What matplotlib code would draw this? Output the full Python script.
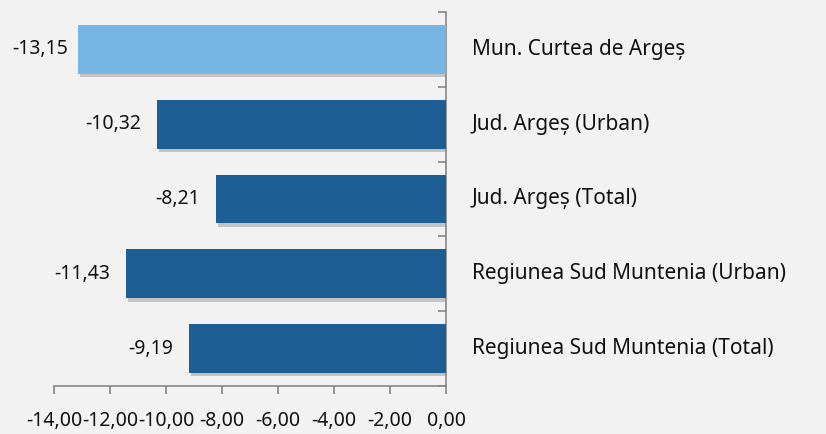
import matplotlib.pyplot as plt
import matplotlib.patheffects as pe
from matplotlib.transforms import blended_transform_factory

categories = ['Mun. Curtea de Argeș', 'Jud. Argeș (Urban)', 'Jud. Argeș (Total)',
              'Regiunea Sud Muntenia (Urban)', 'Regiunea Sud Muntenia (Total)']
values = [-13.15, -10.32, -8.21, -11.43, -9.19]
colors = ['#77b5e4', '#1d5e95', '#1d5e95', '#1d5e95', '#1d5e95']
xticks = [-14, -12, -10, -8, -6, -4, -2, 0]

def fmt(v):
    return ('%.2f' % v).replace('.', ',')

bg = '#f2f2f2'
fig = plt.figure(figsize=(8.26, 4.34), dpi=100, facecolor=bg)
ax = fig.add_axes([54/826, 1-386/434, 392/826, 374/434])
ax.set_facecolor(bg)

ypos = list(range(len(categories)))
bars = ax.barh(ypos, values, height=0.65, color=colors, zorder=3)
for b in bars:
    b.set_path_effects([pe.SimplePatchShadow(offset=(1.5, -2.5), shadow_rgbFace='#8a8a8a', alpha=0.45),
                        pe.Normal()])

ax.set_xlim(-14, 0)
ax.set_ylim(len(categories) - 0.5, -0.5)

ax.set_xticks(xticks)
ax.set_xticklabels([fmt(v) for v in xticks], fontsize=14, family='Noto Sans', color='#111111')
ax.set_yticks([i - 0.5 for i in range(len(categories) + 1)])
ax.set_yticklabels([])

for s in ['top', 'left']:
    ax.spines[s].set_visible(False)
for s in ['right', 'bottom']:
    ax.spines[s].set_color('#868686')
    ax.spines[s].set_linewidth(1.2)
ax.yaxis.tick_right()
ax.tick_params(axis='y', direction='in', length=6, color='#868686', width=1.2)
ax.tick_params(axis='x', direction='out', length=6, color='#868686', width=1.2, pad=12)

trans = blended_transform_factory(ax.transAxes, ax.transData)
figtrans = blended_transform_factory(fig.transFigure, ax.transData)
for i, (c, v) in enumerate(zip(categories, values)):
    ax.text(1.066, i, c, transform=trans, ha='left', va='center', fontsize=15,
            family='Noto Sans', color='#111111')
    if v - 0.57 < -13.3:
        # label would run off the left edge: pinned to the chart border
        ax.text(12/826, i, fmt(v), transform=figtrans, ha='left', va='center',
                fontsize=14, family='Noto Sans', color='#111111')
    else:
        ax.text(v - 0.57, i, fmt(v), ha='right', va='center',
                fontsize=14, family='Noto Sans', color='#111111')

fig.savefig('out.png', dpi=100, facecolor=bg)
